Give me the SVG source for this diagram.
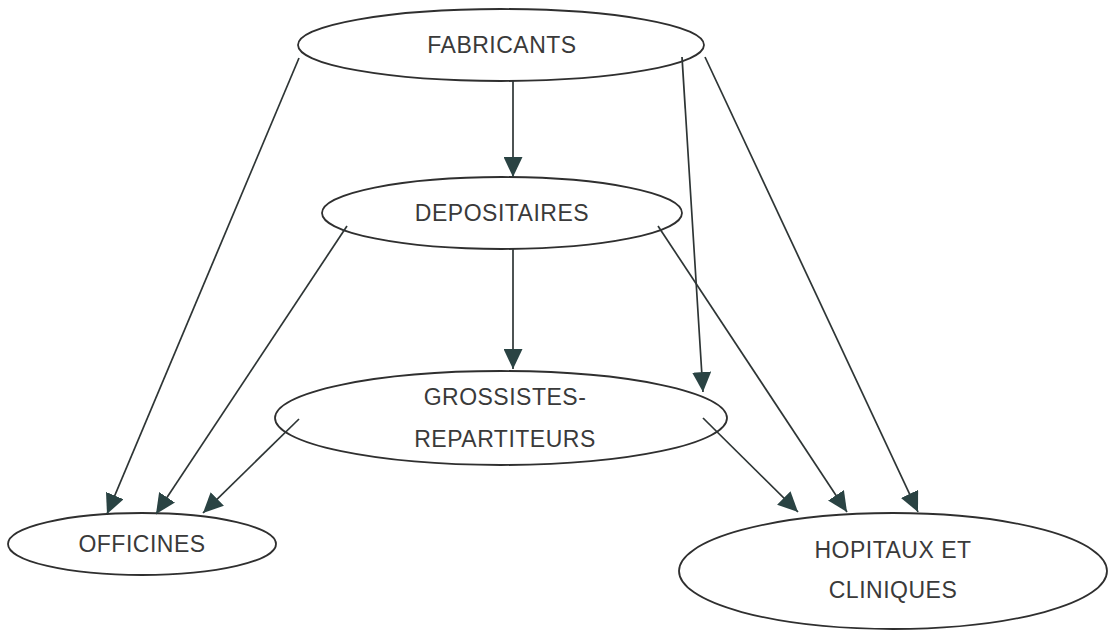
<svg xmlns="http://www.w3.org/2000/svg" width="1111" height="630" viewBox="0 0 1111 630">
<style>
.node ellipse{fill:#fff;stroke:#2f2f2f;stroke-width:1.8}
.node text{font-family:"Liberation Sans",Arial,sans-serif;font-size:23px;fill:#3a3a3a;text-anchor:middle;letter-spacing:0.5px}
.edges line{stroke:#2e3535;stroke-width:1.7;marker-end:url(#ah)}
</style>
<defs>
<marker id="ah" markerUnits="userSpaceOnUse" markerWidth="20" markerHeight="19" refX="20" refY="9.5" orient="auto">
<path d="M0,0 L20,9.5 L0,19 Z" fill="#2a4343"/>
</marker>
</defs>
<rect width="1111" height="630" fill="#fff"/>
<g id="n-fabricants" class="node">
<ellipse cx="501" cy="45" rx="203" ry="36"/>
<text x="502" y="53">FABRICANTS</text>
</g>
<g id="n-depositaires" class="node">
<ellipse cx="502" cy="213" rx="180" ry="36"/>
<text x="502" y="221">DEPOSITAIRES</text>
</g>
<g id="n-grossistes" class="node">
<ellipse cx="501" cy="418" rx="226" ry="47"/>
<text x="505" y="405">GROSSISTES-</text>
<text x="505" y="447">REPARTITEURS</text>
</g>
<g id="n-officines" class="node">
<ellipse cx="142" cy="544" rx="134" ry="31"/>
<text x="142" y="552">OFFICINES</text>
</g>
<g id="n-hopitaux" class="node">
<ellipse cx="893" cy="571" rx="214" ry="58"/>
<text x="893" y="558">HOPITAUX ET</text>
<text x="893" y="598">CLINIQUES</text>
</g>
<g id="edges" class="edges">
<line x1="513" y1="81" x2="513" y2="177"/>
<line x1="299" y1="58" x2="107" y2="514"/>
<line x1="347" y1="226" x2="156" y2="514"/>
<line x1="299" y1="419" x2="203" y2="513"/>
<line x1="513" y1="249" x2="513" y2="369"/>
<line x1="682" y1="57" x2="703" y2="392"/>
<line x1="658" y1="226" x2="847" y2="512"/>
<line x1="703" y1="418" x2="798" y2="512"/>
<line x1="705" y1="57" x2="918" y2="512"/>
</g>
</svg>
